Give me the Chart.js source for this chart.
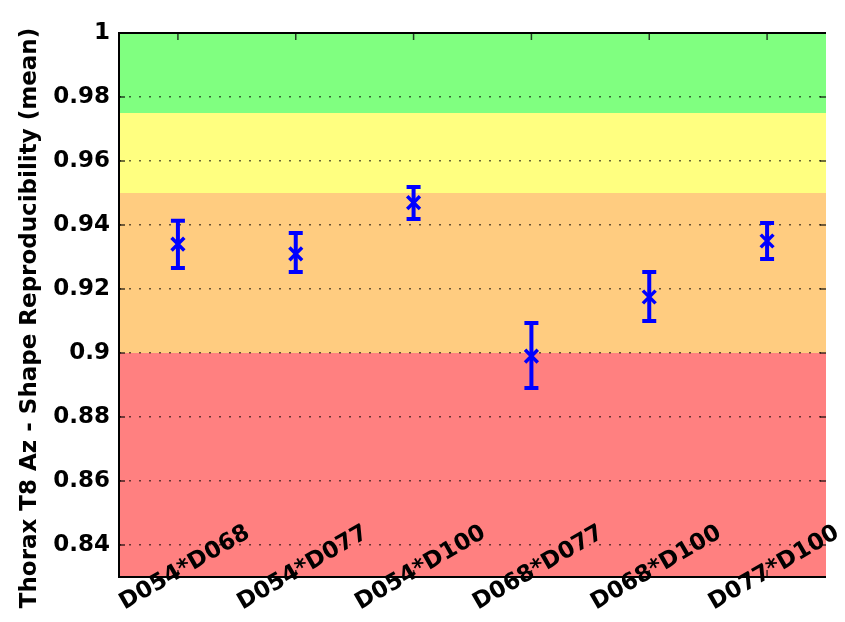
<!DOCTYPE html>
<html>
<head>
    <title>Thorax T8 Az - Shape Reproducibility</title>
    <script src="https://cdn.jsdelivr.net/npm/chart.js"></script>
    <style>
        body { margin: 0; background: #fff; }
    </style>
</head>
<body>
    <canvas id="reproChart" width="845" height="622"></canvas>
    <script>
        // data
        var pairs = ['D054*D068', 'D054*D077', 'D054*D100', 'D068*D077', 'D068*D100', 'D077*D100'];
        var meanValues = [0.934, 0.931, 0.947, 0.899, 0.9175, 0.935];
        var lowerValues = [0.9266, 0.9253, 0.9419, 0.8891, 0.910, 0.9294];
        var upperValues = [0.9413, 0.9375, 0.9519, 0.9094, 0.9253, 0.9406];
        var yTicks = [0.84, 0.86, 0.88, 0.9, 0.92, 0.94, 0.96, 0.98, 1];
        // quality bands: limits and colours
        var bandLimits = [0.83, 0.9, 0.95, 0.975, 1.0];
        var bandColors = ['#ff8080', '#ffcc80', '#ffff80', '#80ff80'];
        var yTitle = 'Thorax T8 Az - Shape Reproducibility (mean)';

        var font = 'bold 23px "DejaVu Sans"';

        // coloured bands behind the grid
        var bandsPlugin = {
            id: 'bands',
            beforeDraw: function(chart) {
                var ctx = chart.ctx, a = chart.chartArea, y = chart.scales.y;
                ctx.save();
                for (var i = 0; i < bandColors.length; i++) {
                    var top = y.getPixelForValue(bandLimits[i + 1]);
                    var bot = y.getPixelForValue(bandLimits[i]);
                    ctx.fillStyle = bandColors[i];
                    ctx.fillRect(a.left, top, a.right - a.left, bot - top);
                }
                ctx.restore();
            }
        };

        // error bars
        var errorBarPlugin = {
            id: 'errorBars',
            afterDatasetsDraw: function(chart) {
                var ctx = chart.ctx, x = chart.scales.x, y = chart.scales.y;
                ctx.save();
                ctx.strokeStyle = '#0000ff';
                ctx.lineWidth = 4;
                for (var i = 0; i < pairs.length; i++) {
                    var px = x.getPixelForValue(i);
                    var lo = y.getPixelForValue(lowerValues[i]);
                    var hi = y.getPixelForValue(upperValues[i]);
                    ctx.beginPath();
                    ctx.moveTo(px, lo); ctx.lineTo(px, hi);
                    ctx.moveTo(px - 7, lo); ctx.lineTo(px + 7, lo);
                    ctx.moveTo(px - 7, hi); ctx.lineTo(px + 7, hi);
                    ctx.stroke();
                }
                ctx.restore();
            }
        };

        // box lines, inner tick marks, rotated category labels, y title
        var framePlugin = {
            id: 'frame',
            afterDraw: function(chart) {
                var ctx = chart.ctx, a = chart.chartArea, x = chart.scales.x, y = chart.scales.y;
                ctx.save();
                ctx.strokeStyle = 'rgba(0,0,0,0.75)';
                ctx.lineWidth = 1.5;
                ctx.beginPath();
                yTicks.forEach(function(v) {
                    var py = y.getPixelForValue(v);
                    ctx.moveTo(a.left, py); ctx.lineTo(a.left + 6, py);
                    ctx.moveTo(a.right, py); ctx.lineTo(a.right - 6, py);
                });
                pairs.forEach(function(p, i) {
                    var px = x.getPixelForValue(i);
                    ctx.moveTo(px, a.top); ctx.lineTo(px, a.top + 7);
                    ctx.moveTo(px, a.bottom); ctx.lineTo(px, a.bottom - 7);
                });
                ctx.stroke();

                ctx.strokeStyle = '#000';
                ctx.lineWidth = 2;
                ctx.beginPath();
                ctx.moveTo(a.right, a.top); ctx.lineTo(a.left, a.top);
                ctx.lineTo(a.left, a.bottom); ctx.lineTo(a.right, a.bottom);
                ctx.stroke();

                ctx.fillStyle = '#000';
                ctx.font = font;
                ctx.textAlign = 'center';
                ctx.textBaseline = 'middle';
                pairs.forEach(function(p, i) {
                    ctx.save();
                    ctx.translate(x.getPixelForValue(i) + 7, a.bottom - 9);
                    ctx.rotate(-Math.PI / 6);
                    ctx.fillText(p, 0, 0);
                    ctx.restore();
                });

                ctx.save();
                ctx.translate(30, 318);
                ctx.rotate(-Math.PI / 2);
                ctx.fillText(yTitle, 0, 0);
                ctx.restore();
                ctx.restore();
            }
        };

        var ctx = document.getElementById('reproChart').getContext('2d');
        new Chart(ctx, {
            type: 'line',
            data: {
                labels: pairs,
                datasets: [{
                    label: 'mean',
                    data: meanValues,
                    showLine: false,
                    pointStyle: 'crossRot',
                    pointRadius: 9,
                    pointHoverRadius: 9,
                    pointBorderWidth: 3.5,
                    borderColor: '#0000ff',
                    backgroundColor: '#0000ff'
                }]
            },
            options: {
                responsive: false,
                animation: false,
                layout: { padding: { top: 33, right: 19, left: 0, bottom: 0 } },
                plugins: {
                    legend: { display: false },
                    tooltip: { enabled: false }
                },
                scales: {
                    x: {
                        type: 'category',
                        offset: true,
                        grid: { display: false, drawTicks: false },
                        border: { display: false },
                        ticks: { display: false },
                        afterFit: function(scale) { scale.height = 45; }
                    },
                    y: {
                        min: 0.83,
                        max: 1,
                        afterBuildTicks: function(scale) {
                            scale.ticks = yTicks.map(function(v) { return { value: v }; });
                        },
                        afterFit: function(scale) { scale.width = 119; },
                        grid: { color: 'rgba(0,0,0,0.6)', lineWidth: 1.5, drawTicks: false },
                        border: { display: false, dash: [2, 8] },
                        ticks: {
                            padding: 9,
                            color: '#000',
                            font: { family: 'DejaVu Sans', size: 23, weight: 'bold' },
                            callback: function(v) { return String(Number(v.toFixed(2))); }
                        }
                    }
                }
            },
            plugins: [bandsPlugin, errorBarPlugin, framePlugin]
        });
    </script>
</body>
</html>
